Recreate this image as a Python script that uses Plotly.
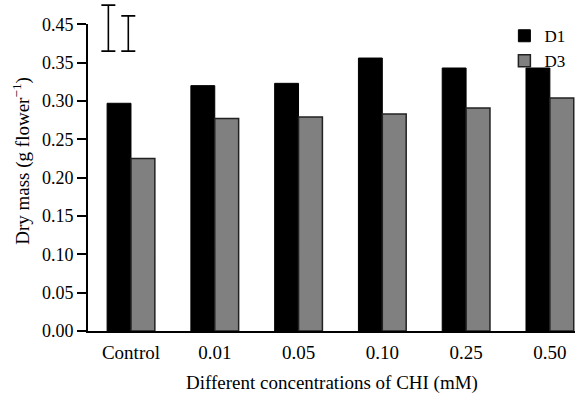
import plotly.graph_objects as go

categories = ["Control", "0.01", "0.05", "0.10", "0.25", "0.50"]
d1_values = [0.297, 0.320, 0.323, 0.356, 0.343, 0.343]
d3_values = [0.225, 0.277, 0.279, 0.283, 0.291, 0.304]

# LSD scale bars shown at the top-left (x position, centre value, half-length)
lsd_x = [-0.27, -0.032]
lsd_center = [0.395, 0.388]
lsd_half = [0.030, 0.023]

y_tickvals = [0.00, 0.05, 0.10, 0.15, 0.20, 0.25, 0.30, 0.35, 0.40]
y_ticktext = ["0.00", "0.05", "0.10", "0.15", "0.20", "0.25", "0.30", "0.35", "0.45"]

FONT = "Liberation Serif, Times New Roman, serif"

Y_MAX = 0.40
MAIN_TOP = 0.9266  # main y-axis domain top inside the plotting area
xr = [-0.513, 5.30]

fig = go.Figure()
fig.add_trace(go.Bar(x=categories, y=d1_values, name="D1",
                     marker=dict(color="black", line=dict(color="black", width=1))))
fig.add_trace(go.Bar(x=categories, y=d3_values, name="D3",
                     marker=dict(color="#808080", line=dict(color="#222222", width=1.5))))

# scale bars drawn on an overlaid, taller subplot that shares the same scale
fig.add_trace(go.Scatter(
    x=lsd_x, y=lsd_center, xaxis="x2", yaxis="y2",
    mode="markers", marker=dict(size=1, color="rgba(0,0,0,0)"),
    error_y=dict(type="data", array=lsd_half, visible=True, color="black",
                 thickness=1.6, width=7),
    cliponaxis=False, showlegend=False, hoverinfo="skip"))

fig.update_layout(
    width=576, height=402,
    margin=dict(l=88, r=1, t=0, b=71, autoexpand=False),
    paper_bgcolor="white", plot_bgcolor="rgba(0,0,0,0)",
    font=dict(family=FONT, size=18, color="black"),
    barmode="group", bargap=0.43, bargroupgap=0.0,
    showlegend=True,
    legend=dict(x=0.855, y=0.945, xanchor="left", yanchor="top",
                bgcolor="rgba(0,0,0,0)", borderwidth=0, itemwidth=30,
                tracegroupgap=0, font=dict(size=17)),
    xaxis=dict(type="category", range=xr, domain=[0, 1], showline=True,
               linecolor="black", linewidth=2, ticks="", showgrid=False,
               zeroline=False, ticklabelstandoff=3, tickfont=dict(size=19)),
    yaxis=dict(range=[0, Y_MAX], domain=[0, MAIN_TOP], tickvals=y_tickvals,
               ticktext=y_ticktext, showline=True, linecolor="black",
               linewidth=2, ticks="outside", ticklen=9, tickwidth=2,
               tickcolor="black", showgrid=False, zeroline=False),
    xaxis2=dict(range=xr, domain=[0, 1], anchor="y2", visible=False),
    yaxis2=dict(range=[0, Y_MAX / MAIN_TOP], domain=[0, 1], anchor="x2",
                visible=False),
    annotations=[
        dict(text="Dry mass (g flower<sup>\u22121</sup>)", xref="paper", yref="paper",
             x=-0.137, y=0.515, xanchor="center", yanchor="middle",
             textangle=-90, showarrow=False, font=dict(size=19)),
        dict(text="Different concentrations of CHI (mM)", xref="paper", yref="paper",
             x=0.5, y=-0.157, xanchor="center", yanchor="middle",
             showarrow=False, font=dict(size=19)),
    ],
)

fig.write_html("out.html", config={"displayModeBar": False},
               post_script="document.body.style.margin='0';")
